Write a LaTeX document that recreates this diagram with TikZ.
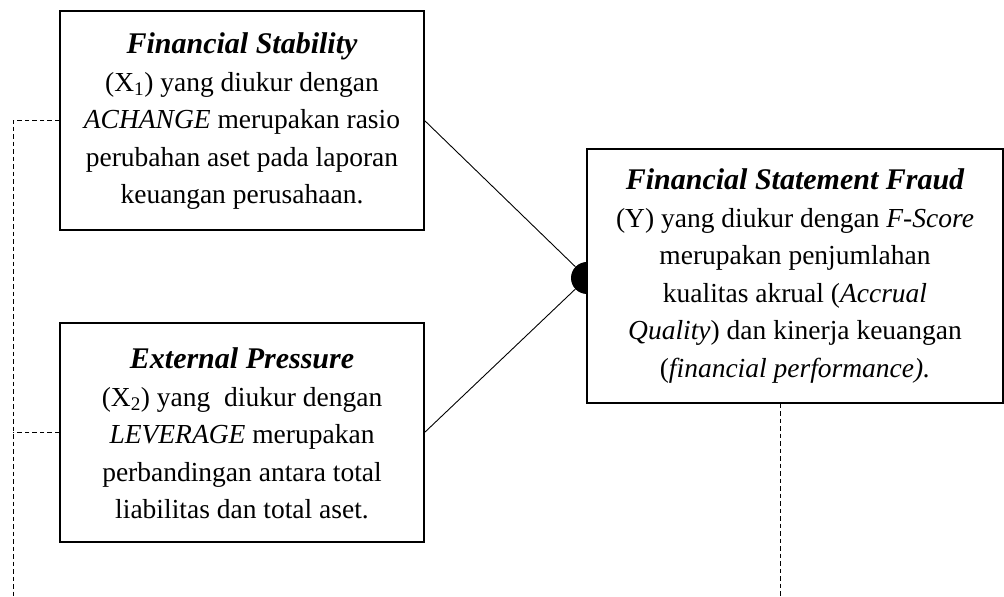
\documentclass[tikz,border=0pt]{standalone}
\usepackage{fontspec}
\setmainfont{Liberation Serif}
\begin{document}
\begin{tikzpicture}[x=1pt,y=1pt,
  box/.style={draw, line width=1.1pt, fill=white, align=center, inner sep=0pt,
    font=\fontsize{27.5}{37.5}\selectfont},
  dsh/.style={line width=1pt, dash pattern=on 4.5pt off 3pt},
  link/.style={line width=0.9pt}]
\useasboundingbox (0,0) rectangle (1004,597);
\node[circle, fill=black, minimum size=32pt, inner sep=0pt] (dot) at (587,319) {};
\node[box, minimum width=364pt, minimum height=219pt] (b1) at (242,476.5)
  {\rule{0pt}{6pt}\\[-21pt]{\fontsize{30}{37.5}\selectfont\bfseries\itshape Financial Stability}\\
   (X\textsubscript{1}) yang diukur dengan\\
   \textit{ACHANGE} merupakan rasio\\
   perubahan aset pada laporan\\
   keuangan perusahaan.};
\node[box, minimum width=364pt, minimum height=219pt] (b2) at (242,164.5)
  {\rule{0pt}{6pt}\\[-21pt]{\fontsize{30}{37.5}\selectfont\bfseries\itshape External Pressure}\\
   (X\textsubscript{2}) yang\ \ diukur dengan\\
   \textit{LEVERAGE} merupakan\\
   perbandingan antara total\\
   liabilitas dan total aset.};
\draw[link] (b1.east) -- (dot);
\draw[link] (b2.east) -- (dot);
\node[box, minimum width=416pt, minimum height=254pt] (b3) at (795,321)
  {{\fontsize{30}{37.5}\selectfont\bfseries\itshape Financial Statement Fraud}\\
   (Y) yang diukur dengan \textit{F-Score}\\
   merupakan penjumlahan\\
   kualitas akrual (\textit{Accrual}\\
   \textit{Quality}) dan kinerja keuangan\\
   (\textit{financial performance).}};
\coordinate (Lb) at (13,0);
\coordinate (Rb) at (780,0);
\draw[dsh] (b1.west) -- (b1.west -| Lb) -- (Lb);
\draw[dsh] (b2.west) -- (b2.west -| Lb);
\draw[dsh] (Rb |- b3.south) -- (Rb);
\end{tikzpicture}
\end{document}
